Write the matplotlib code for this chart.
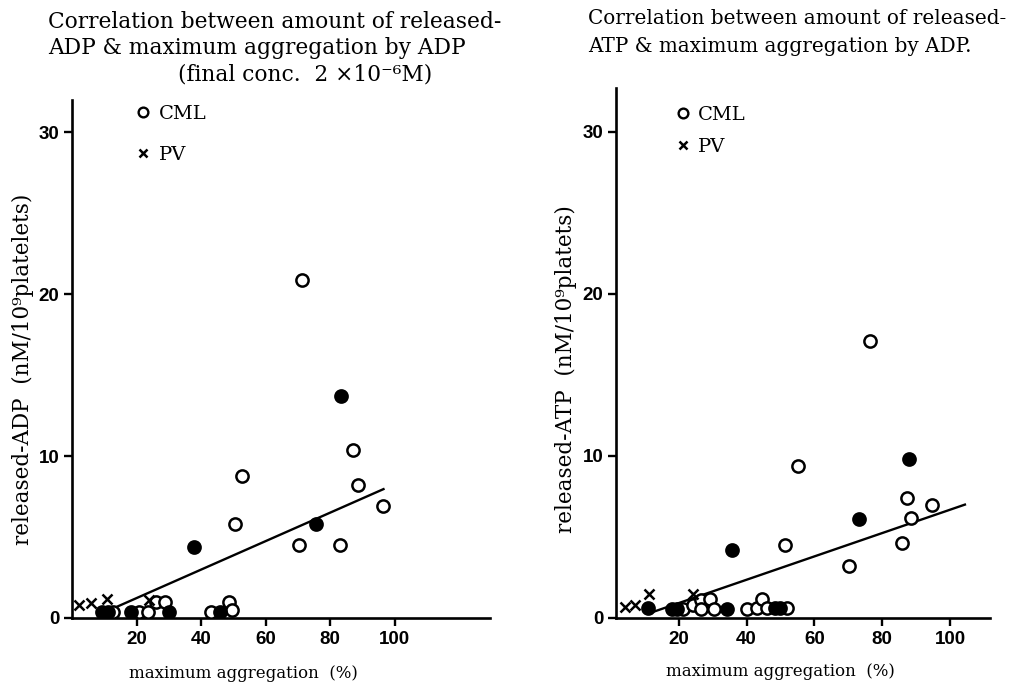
import matplotlib
matplotlib.use("Agg")
import matplotlib.pyplot as plt
from matplotlib.lines import Line2D
import numpy as np

# released-ADP panel
adp_cml_x = [12.8, 20.9, 23.4, 26.0, 28.9, 43.2, 48.5, 49.7,
             50.6, 52.8, 70.4, 71.4, 83.1, 87.1, 88.7, 96.4]
adp_cml_y = [0.4, 0.4, 0.4, 1.0, 1.0, 0.4, 1.0, 0.5,
             5.8, 8.8, 4.5, 20.9, 4.5, 10.4, 8.2, 6.9]
adp_fill_x = [9.4, 11.0, 18.4, 30.2, 45.7, 37.9, 75.7, 83.4]
adp_fill_y = [0.4, 0.4, 0.4, 0.4, 0.4, 4.4, 5.8, 13.7]
adp_pv_x = [2.3, 6.0, 10.7, 24.0]
adp_pv_y = [0.8, 0.9, 1.2, 1.1]
adp_fit = (0.088, -0.53)      # slope, intercept
adp_fit_range = (12.2, 96.5)

# released-ATP panel
atp_cml_x = [21.3, 24.3, 26.5, 26.5, 29.2, 30.4, 40.0, 43.0, 44.7, 46.1, 51.8,
             51.3, 55.1, 70.2, 76.4, 85.7, 87.2, 88.5, 94.8]
atp_cml_y = [0.57, 0.8, 1.1, 0.57, 1.2, 0.57, 0.57, 0.6, 1.15, 0.6, 0.6,
             4.5, 9.4, 3.2, 17.1, 4.6, 7.4, 6.15, 7.0]
atp_fill_x = [11.0, 17.9, 19.4, 34.3, 48.4, 49.9, 35.8, 73.1, 87.9]
atp_fill_y = [0.6, 0.55, 0.55, 0.55, 0.6, 0.6, 4.2, 6.1, 9.8]
atp_pv_x = [4.1, 7.1, 11.2, 24.1]
atp_pv_y = [0.7, 0.8, 1.5, 1.5]
atp_fit = (0.072, -0.52)
atp_fit_range = (12.0, 104.4)

xticks = [20, 40, 60, 80, 100]
yticks = [0, 10, 20, 30]

serif = "DejaVu Serif"
tickfont = dict(family="Liberation Sans", weight="bold", size=13.5)

fig = plt.figure(figsize=(10.25, 6.86), dpi=100)
ax1 = fig.add_axes([72 / 1025, 68 / 686, 418 / 1025, 518 / 686])
ax2 = fig.add_axes([616 / 1025, 68 / 686, 374 / 1025, 530 / 686])


def draw_panel(ax, cx, cy, fx, fy, px, py, fit, fit_rng, xlim, ylim, ylabel,
               leg_y, leg_space):
    ax.plot(cx, cy, "o", ms=8.8, mfc="white", mec="black", mew=1.8, ls="none", zorder=3)
    ax.plot(fx, fy, "o", ms=8.8, mfc="black", mec="black", mew=1.8, ls="none", zorder=3)
    ax.plot(px, py, "x", ms=6.5, color="black", mew=1.8, ls="none", zorder=3)
    lx = np.array(fit_rng)
    ax.plot(lx, fit[0] * lx + fit[1], color="black", lw=1.7, zorder=2)

    ax.set_xlim(*xlim)
    ax.set_ylim(*ylim)
    ax.set_xticks(xticks)
    ax.set_yticks(yticks)
    for s in ["top", "right"]:
        ax.spines[s].set_visible(False)
    for s in ["left", "bottom"]:
        ax.spines[s].set_linewidth(1.9)
    ax.tick_params(direction="out", length=6, width=1.7, pad=3)
    for lab in ax.get_xticklabels() + ax.get_yticklabels():
        lab.set_fontproperties(tickfont)

    ax.set_xlabel("maximum aggregation  (%)", family=serif, fontsize=12)
    ax.set_ylabel(ylabel, family=serif, fontsize=15.5)

    handles = [Line2D([], [], marker="o", ls="none", ms=7, mfc="white", mec="black", mew=1.7),
               Line2D([], [], marker="x", ls="none", ms=6, color="black", mew=1.8)]
    ax.legend(handles, ["CML", "PV"], loc="upper left", bbox_to_anchor=(0.1, leg_y),
              frameon=False, prop=dict(family=serif, size=14), handletextpad=0.2,
              labelspacing=leg_space, handlelength=1.2)


draw_panel(ax1, adp_cml_x, adp_cml_y, adp_fill_x, adp_fill_y, adp_pv_x, adp_pv_y,
           adp_fit, adp_fit_range, (0, 129.5), (0, 32),
           "released-ADP  (nM/10\u2079platelets)", 1.025, 1.2)
draw_panel(ax2, atp_cml_x, atp_cml_y, atp_fill_x, atp_fill_y, atp_pv_x, atp_pv_y,
           atp_fit, atp_fit_range, (1.5, 111.8), (0, 32.7),
           "released-ATP  (nM/10\u2079platets)", 1.0, 0.75)

ax1.xaxis.set_label_coords(0.41, -0.09)
ax1.yaxis.set_label_coords(-0.092, 0.48)
ax2.xaxis.set_label_coords(0.44, -0.085)
ax2.yaxis.set_label_coords(-0.105, 0.47)

# titles
fig.text(48 / 1025, 1 - 22 / 686, "Correlation between amount of released-",
         family=serif, fontsize=15.7, va="center")
fig.text(48 / 1025, 1 - 48 / 686, "ADP & maximum aggregation by ADP",
         family=serif, fontsize=15.7, va="center")
fig.text(178 / 1025, 1 - 75 / 686, "(final conc.  2 \u00d710\u207b\u2076M)",
         family=serif, fontsize=15.7, va="center")
fig.text(588 / 1025, 1 - 18 / 686, "Correlation between amount of released-",
         family=serif, fontsize=14.4, va="center")
fig.text(588 / 1025, 1 - 47 / 686, "ATP & maximum aggregation by ADP.",
         family=serif, fontsize=14.4, va="center")

fig.savefig("out.png", dpi=100)
